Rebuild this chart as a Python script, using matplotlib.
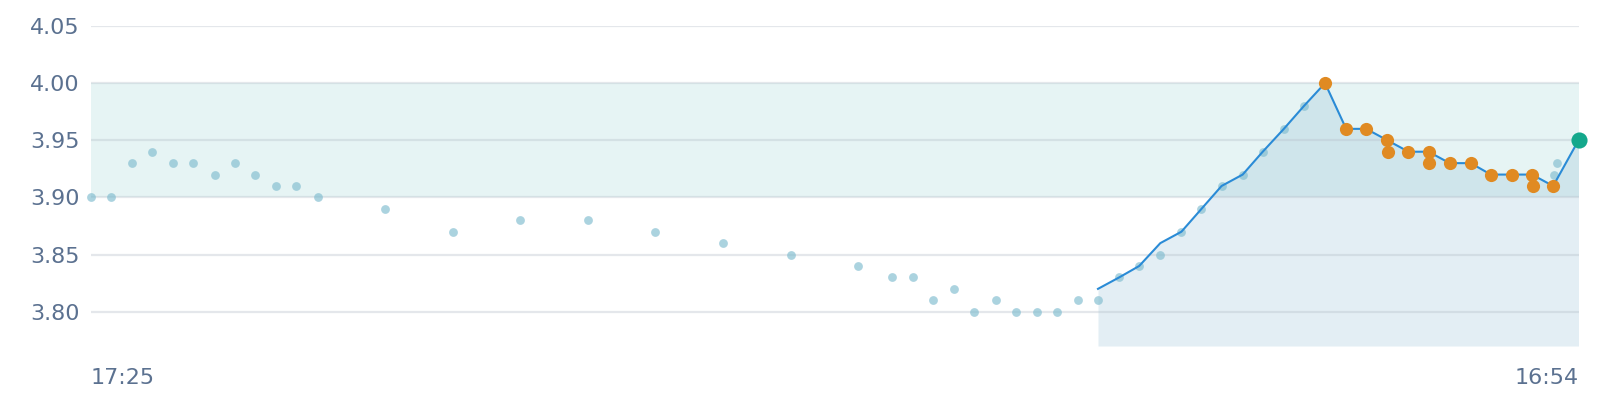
import matplotlib
matplotlib.use("Agg")
import matplotlib.pyplot as plt

# ---------------- data ----------------
start_time = "17:25"
end_time = "16:54"

dot_times = ["17:25", "17:44", "18:04", "18:23", "18:43", "19:02", "19:23", "19:42",
             "20:01", "20:21", "20:40", "21:00", "22:04", "23:08", "00:12", "01:16",
             "02:20", "03:24", "04:28", "05:32", "06:04", "06:24", "06:43", "07:03",
             "07:22", "07:42", "08:01", "08:21", "08:40", "09:00", "09:19", "09:39",
             "09:58", "10:18", "10:38", "10:57", "11:16", "11:36", "11:55", "12:15",
             "12:34", "16:31", "16:34"]
dot_values = [3.90, 3.90, 3.93, 3.94, 3.93, 3.93, 3.92, 3.93,
              3.92, 3.91, 3.91, 3.90, 3.89, 3.87, 3.88, 3.88,
              3.87, 3.86, 3.85, 3.84, 3.83, 3.83, 3.81, 3.82,
              3.80, 3.81, 3.80, 3.80, 3.80, 3.81, 3.81, 3.83,
              3.84, 3.85, 3.87, 3.89, 3.91, 3.92, 3.94, 3.96,
              3.98, 3.92, 3.93]

line_times = ["09:19", "09:39", "09:58", "10:18", "10:38", "10:57", "11:16", "11:36",
              "11:55", "12:15", "12:34", "12:54", "13:14", "13:33", "13:53", "14:13",
              "14:32", "14:52", "15:12", "15:31", "15:51", "16:10", "16:30", "16:54"]
line_values = [3.82, 3.83, 3.84, 3.86, 3.87, 3.89, 3.91, 3.92,
               3.94, 3.96, 3.98, 4.00, 3.96, 3.96, 3.95, 3.94,
               3.94, 3.93, 3.93, 3.92, 3.92, 3.92, 3.91, 3.95]

orange_times = ["12:54", "13:14", "13:33", "13:53", "13:54", "14:13", "14:32", "14:32",
                "14:52", "15:12", "15:31", "15:51", "16:10", "16:11", "16:30"]
orange_values = [4.00, 3.96, 3.96, 3.95, 3.94, 3.94, 3.94, 3.93,
                 3.93, 3.93, 3.92, 3.92, 3.92, 3.91, 3.91]

last_time = "16:54"
last_value = 3.95

band_low, band_high = 3.90, 4.00
y_ticks = [3.80, 3.85, 3.90, 3.95, 4.00, 4.05]
y_min, y_max = 3.77, 4.05


# ---------------- helpers ----------------
def to_min(t):
    h, m = map(int, t.split(":"))
    s_h, s_m = map(int, start_time.split(":"))
    d = (h * 60 + m) - (s_h * 60 + s_m)
    if d < 0:
        d += 24 * 60
    return d


dot_x = [to_min(t) for t in dot_times]
line_x = [to_min(t) for t in line_times]
orange_x = [to_min(t) for t in orange_times]
last_x = to_min(last_time)
x0, x1 = to_min(start_time), to_min(end_time)

# ---------------- plot ----------------
fig = plt.figure(figsize=(16, 4), dpi=100)
ax = fig.add_axes([90.5 / 1600, 54 / 400, (1578.5 - 90.5) / 1600, 320 / 400])

tick_color = "#5b7190"

ax.axhspan(band_low, band_high, color="#e6f4f4", zorder=0, lw=0)
ax.fill_between(line_x, line_values, y_min, color="#73aac8", alpha=0.2,
                lw=0, zorder=1)

for yv in y_ticks:
    ax.axhline(yv, color="#b8c2cc", alpha=0.38, lw=1.6, zorder=1.5)

ax.scatter(dot_x, dot_values, s=40, color="#7fbccf", alpha=0.65, lw=0,
           zorder=2, clip_on=False)
ax.plot(line_x, line_values, color="#2a8bd6", lw=1.5, zorder=3,
        solid_joinstyle="round")
ax.scatter(orange_x, orange_values, s=90, color="#e08a22", lw=0, zorder=4,
           clip_on=False)
ax.scatter([last_x], [last_value], s=135, color="#14a88c", lw=0, zorder=5,
           clip_on=False)

ax.set_xlim(x0, x1)
ax.set_ylim(y_min, y_max)

for s in ax.spines.values():
    s.set_visible(False)

ax.set_yticks(y_ticks)
ax.set_yticklabels([f"{v:.2f}" for v in y_ticks])
ax.tick_params(axis="y", length=0, pad=8, labelsize=16, labelcolor=tick_color)

ax.set_xticks([x0, x1])
ax.set_xticklabels([start_time, end_time])
ax.tick_params(axis="x", length=0, pad=16, labelsize=16, labelcolor=tick_color)
xl = ax.get_xticklabels()
xl[0].set_horizontalalignment("left")
xl[1].set_horizontalalignment("right")

fig.savefig("out.png", dpi=100, facecolor="white")
